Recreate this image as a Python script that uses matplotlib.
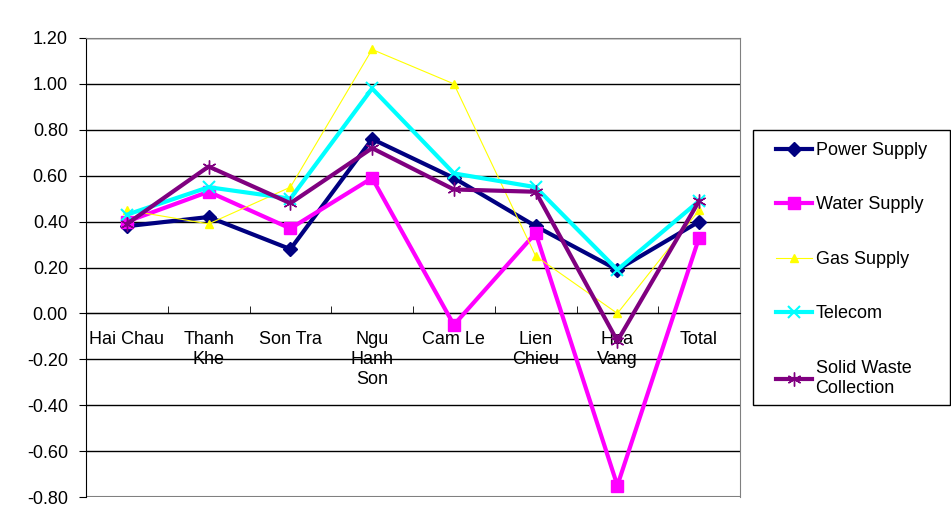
import matplotlib
matplotlib.use('Agg')
import matplotlib.pyplot as plt
from matplotlib.patches import Rectangle
import numpy as np

plt.rcParams['font.family'] = ['Liberation Sans', 'DejaVu Sans']

districts = ['Hai Chau', 'Thanh\nKhe', 'Son Tra', 'Ngu\nHanh\nSon', 'Cam Le',
             'Lien\nChieu', 'Hoa\nVang', 'Total']

power_supply = [0.38, 0.42, 0.28, 0.76, 0.59, 0.38, 0.19, 0.40]
water_supply = [0.40, 0.53, 0.37, 0.59, -0.05, 0.35, -0.75, 0.33]
gas_supply = [0.45, 0.39, 0.55, 1.15, 1.00, 0.25, 0.00, 0.45]
telecom = [0.43, 0.55, 0.50, 0.98, 0.61, 0.55, 0.19, 0.49]
solid_waste = [0.39, 0.64, 0.48, 0.72, 0.54, 0.53, -0.12, 0.49]

x = np.arange(len(districts))
yticks = np.round(np.arange(-0.8, 1.21, 0.2), 2)

W, H = 951, 524
fig = plt.figure(figsize=(W / 100, H / 100), dpi=100)
ax = fig.add_axes([86/W, 1 - 497/H, (740 - 86)/W, (497 - 38)/H])

ax.plot(x, power_supply, color='#000080', lw=3, marker='D', ms=7,
        label='Power Supply', zorder=3)
ax.plot(x, water_supply, color='#FF00FF', lw=3, marker='s', ms=9,
        label='Water Supply', zorder=3)
ax.plot(x, gas_supply, color='#FFFF00', lw=0.8, marker='^', ms=6,
        label='Gas Supply', zorder=3)
ax.plot(x, telecom, color='#00FFFF', lw=3, marker='x', ms=9, mew=1.5,
        label='Telecom', zorder=3)
ax.plot(x, solid_waste, color='#800080', lw=3, marker=(6, 2, 0), ms=10, mew=1,
        label='Solid Waste\nCollection', zorder=3)

ax.set_xlim(-0.5, len(districts) - 0.5)
ax.set_ylim(-0.8, 1.2)
ax.set_yticks(yticks)
ax.set_yticklabels(['%.2f' % (v + 0.0) for v in yticks])
ax.yaxis.grid(True, color='black', lw=1)
ax.set_axisbelow(True)

ax.set_xticks(x)
ax.set_xticklabels(districts, va='top')
ax.set_xticks(np.arange(0.5, len(districts) - 0.5, 1), minor=True)
ax.tick_params(axis='x', which='major', length=0, pad=13, labelsize=13)
ax.tick_params(axis='x', which='minor', direction='in', length=5, color='black')
ax.tick_params(axis='y', direction='out', length=5, color='black', pad=8,
               labelsize=13)

ax.spines['bottom'].set_position(('data', 0))
ax.spines['bottom'].set_color('black')
ax.spines['left'].set_color('black')
ax.spines['top'].set_color('#808080')
ax.spines['right'].set_color('#808080')
ax.axhline(-0.8, color='#808080', lw=1.5, zorder=1)

# legend box (frame drawn separately to match the wide Excel-style box)
fig.patches.append(Rectangle((753/W, 1 - 405/H), (950 - 753)/W, (405 - 130)/H,
                             transform=fig.transFigure, fill=False,
                             edgecolor='black', lw=1))
fig.legend(loc='upper left', bbox_to_anchor=(765/W, 1 - 131/H),
           fontsize=13, frameon=False, labelspacing=2.08, handlelength=2.0,
           borderaxespad=0, borderpad=0.6, handletextpad=0.2)

fig.savefig('out.png', dpi=100)
